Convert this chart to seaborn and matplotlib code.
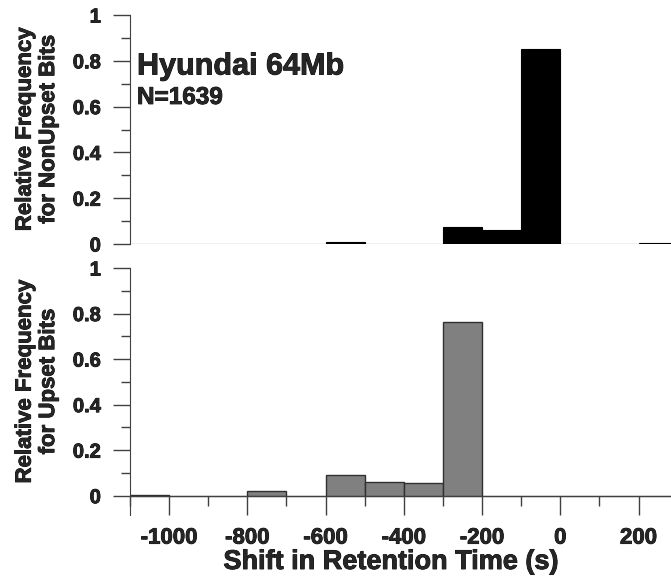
import matplotlib
matplotlib.use("Agg")
import matplotlib.pyplot as plt
import matplotlib.patheffects as pe
from matplotlib.ticker import MultipleLocator
import seaborn as sns

# bin centres of the 100 s wide bins
shift_bins = [-1050, -950, -850, -750, -650, -550, -450, -350, -250, -150, -50, 50, 150, 250]
nonupset_freq = [0, 0, 0, 0, 0, 0.01, 0, 0, 0.075, 0.06, 0.85, 0, 0.002, 0.003]
upset_freq = [0.005, 0, 0, 0.02, 0, 0.09, 0.06, 0.056, 0.764, 0, 0, 0, 0, 0]

sns.set_style("white")
plt.rcParams['font.family'] = ['Liberation Sans', 'DejaVu Sans']
plt.rcParams['font.weight'] = 'bold'
plt.rcParams['axes.unicode_minus'] = False

fig = plt.figure(figsize=(6.71, 5.80), dpi=100)
ax_top = fig.add_axes([0.1937, 0.5793, 0.8063, 0.3948])
ax_bot = fig.add_axes([0.1937, 0.112, 0.8063, 0.4259])

axis_col = '#404040'
heavy = [pe.withStroke(linewidth=0.6, foreground='black')]

sns.histplot(x=shift_bins, weights=nonupset_freq, binwidth=100, binrange=(-1100, 300),
             color='black', edgecolor='black', alpha=1, linewidth=0.8, ax=ax_top)
sns.histplot(x=shift_bins, weights=upset_freq, binwidth=100, binrange=(-1100, 300),
             color='#808080', edgecolor='#303030', alpha=1, linewidth=1.0, ax=ax_bot)

for ax in (ax_top, ax_bot):
    ax.set_xlim(-1100, 283)
    ax.yaxis.set_minor_locator(MultipleLocator(0.1))
    ax.set_yticks([0, 0.2, 0.4, 0.6, 0.8, 1])
    ax.set_yticklabels(['0', '0.2', '0.4', '0.6', '0.8', '1'])
    ax.tick_params(axis='y', which='major', direction='out', length=12, width=1,
                   color=axis_col, labelsize=14.5, pad=9, left=True)
    ax.tick_params(axis='y', which='minor', direction='out', length=6.5, width=1,
                   color=axis_col, left=True)
    for s in ('top', 'right'):
        ax.spines[s].set_visible(False)
    ax.spines['left'].set_color(axis_col)
    ax.set_xlabel('')
    ax.set_ylabel('')

# top panel: no x axis
ax_top.set_ylim(0, 1)
ax_top.spines['bottom'].set_visible(False)
ax_top.tick_params(axis='x', which='both', bottom=False, labelbottom=False)
ax_top.spines['left'].set_bounds(0, 1)

# bottom panel: x axis line at y=0
ax_bot.set_ylim(-0.085, 1)
ax_bot.spines['bottom'].set_position(('data', 0))
ax_bot.spines['bottom'].set_color(axis_col)
ax_bot.xaxis.set_major_locator(MultipleLocator(200))
ax_bot.xaxis.set_minor_locator(MultipleLocator(100))
ax_bot.tick_params(axis='x', which='major', direction='out', length=14, width=1,
                   color=axis_col, labelsize=16, pad=9, bottom=True)
ax_bot.tick_params(axis='x', which='minor', direction='out', length=7, width=1,
                   color=axis_col, bottom=True)
for lab in ax_bot.get_xticklabels() + ax_bot.get_yticklabels() + ax_top.get_yticklabels():
    lab.set_fontweight('bold')
    lab.set_path_effects(heavy)

fig.text(0.055, 0.777, 'Relative Frequency\nfor NonUpset Bits', rotation=90,
         ha='center', va='center', fontsize=16, fontweight='bold', linespacing=1.15,
         path_effects=heavy)
fig.text(0.055, 0.342, 'Relative Frequency\nfor Upset Bits', rotation=90,
         ha='center', va='center', fontsize=16, fontweight='bold', linespacing=1.15,
         path_effects=heavy)

ax_top.text(-1082, 0.775, 'Hyundai 64Mb', fontsize=22, fontweight='bold', va='center',
            path_effects=heavy)
ax_top.text(-1082, 0.64, 'N=1639', fontsize=17.5, fontweight='bold', va='center',
            path_effects=heavy)

fig.text(391 / 671, 1 - 562 / 580, 'Shift in Retention Time (s)', ha='center',
         va='center', fontsize=19.5, fontweight='bold', path_effects=heavy)

fig.savefig('out.png', dpi=100)
